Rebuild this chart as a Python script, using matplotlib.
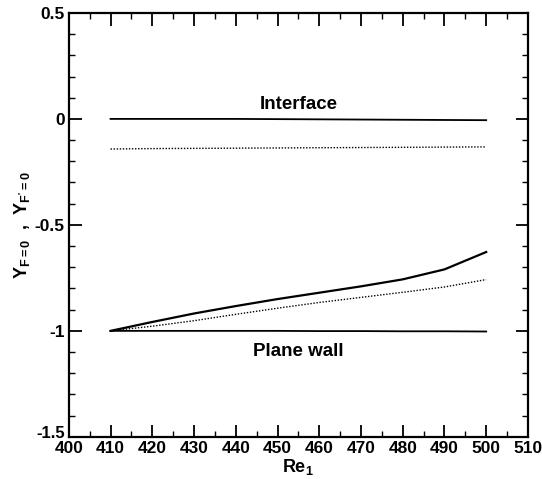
import numpy as np
import matplotlib.pyplot as plt
import matplotlib.transforms as mtransforms
from matplotlib.ticker import MultipleLocator

plt.rcParams['font.family'] = ['Liberation Sans', 'DejaVu Sans']
plt.rcParams['font.weight'] = 'bold'
plt.rcParams['mathtext.fontset'] = 'custom'
plt.rcParams['mathtext.rm'] = 'Liberation Sans:bold'
plt.rcParams['mathtext.it'] = 'Liberation Sans:bold'
plt.rcParams['mathtext.bf'] = 'Liberation Sans:bold'

# Reynolds numbers
re = [410, 420, 430, 440, 450, 460, 470, 480, 490, 500]

# interface position (F=0 solid, F'=0 dotted)
interface_f = [0.0, 0.0, 0.0, 0.0, -0.001, -0.002, -0.003, -0.004, -0.005, -0.006]
interface_fp = [-0.142, -0.140, -0.139, -0.138, -0.137, -0.136, -0.135, -0.134, -0.133, -0.132]

# lower branch near the wall
lower_f = [-1.0, -0.958, -0.918, -0.883, -0.85, -0.82, -0.79, -0.757, -0.71, -0.628]
lower_fp = [-1.0, -0.978, -0.952, -0.922, -0.893, -0.866, -0.842, -0.818, -0.793, -0.758]

# plane wall
wall = [-1.0, -1.0, -1.0, -1.0, -1.0, -1.001, -1.001, -1.002, -1.002, -1.003]

fig = plt.figure(figsize=(5.42, 4.79), dpi=100)
ax = fig.add_axes([0.127, 0.088, 0.847, 0.885])

ax.plot(re, interface_f, color='black', lw=1.3)
ax.plot(re, interface_fp, color='black', lw=1.0, ls=(0, (1, 1.2)))
ax.plot(re, lower_f, color='black', lw=1.6)
ax.plot(re, lower_fp, color='black', lw=1.0, ls=(0, (1, 1.2)))
ax.plot(re, wall, color='black', lw=1.3)

ax.text(455, 0.068, 'Interface', ha='center', va='center', fontsize=13.5, fontweight='bold')
ax.text(455, -1.095, 'Plane wall', ha='center', va='center', fontsize=13.5, fontweight='bold')

ax.set_xlim(400, 510)
ax.set_ylim(-1.5, 0.5)
ax.xaxis.set_major_locator(MultipleLocator(10))
ax.xaxis.set_minor_locator(MultipleLocator(5))
ax.yaxis.set_minor_locator(MultipleLocator(0.1))
ax.set_yticks([-1.5, -1, -0.5, 0, 0.5])
ax.set_yticklabels(['-1.5', '-1', '-0.5', '0', '0.5'])

ax.tick_params(which='both', direction='in', top=True, right=True, labelsize=12.5, pad=3)
ax.tick_params(which='major', length=9, width=1.3)
ax.tick_params(which='minor', length=4.5, width=1.0)
for sp in ax.spines.values():
    sp.set_linewidth(1.6)

# lift the bottom y label a little so it sits above "400"
lbl = ax.get_yticklabels()[0]
lbl.set_transform(lbl.get_transform() + mtransforms.ScaledTranslation(0, 5 / 100, fig.dpi_scale_trans))
lbl.set_fontsize(12)

ax.set_xlabel(r'Re$_1$', fontsize=13, fontweight='bold', labelpad=1)
ax.set_ylabel(r'Y$_{F=0}$  ,  Y$_{F^{\prime}=0}$', fontsize=13, fontweight='bold', labelpad=2)

fig.savefig('out.png', dpi=100)
